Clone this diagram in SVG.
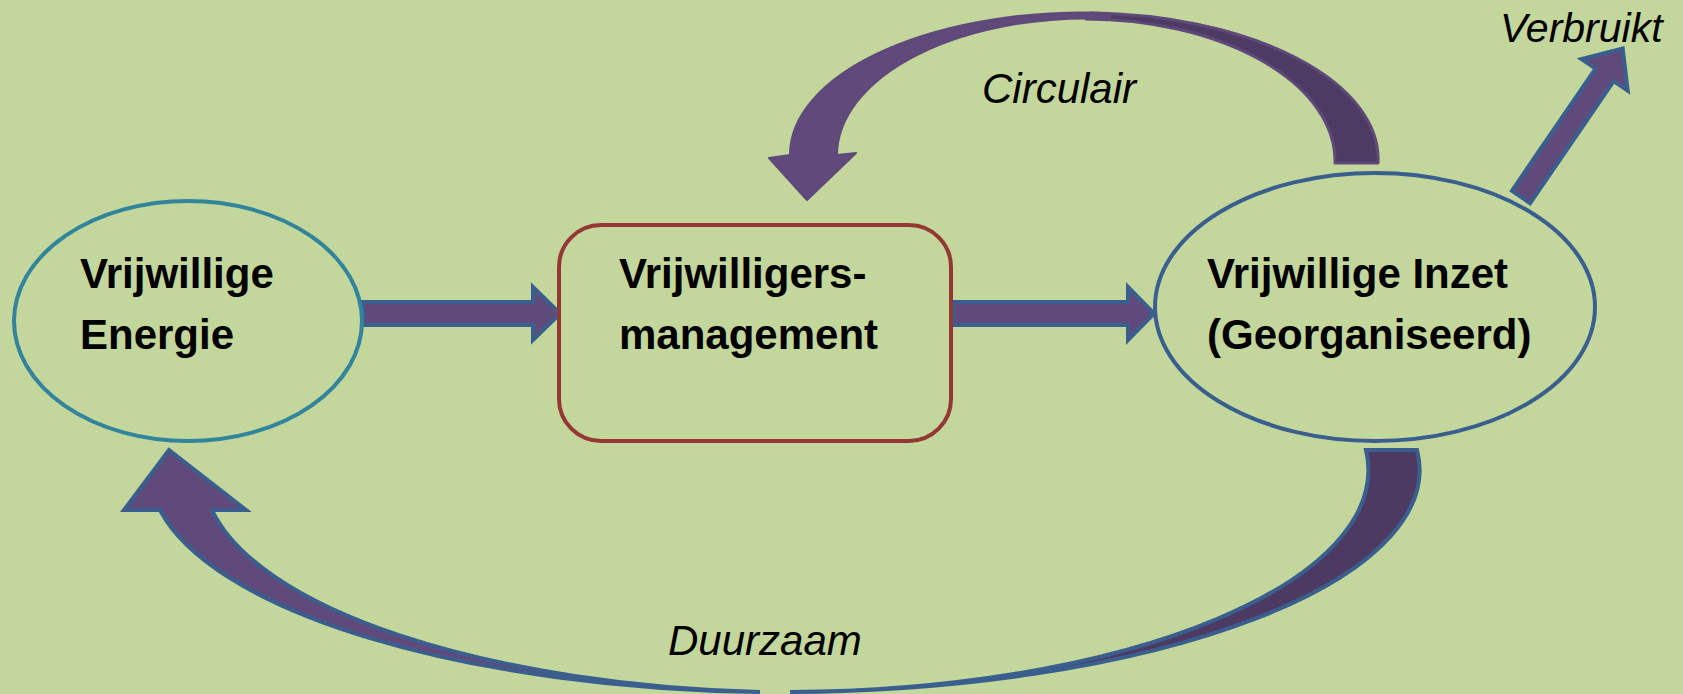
<svg xmlns="http://www.w3.org/2000/svg" width="1683" height="694" viewBox="0 0 1683 694">
<style>
.bg{fill:#C3D69B}
.node-text{font-family:"Liberation Sans",Arial,sans-serif;font-weight:bold;font-size:42px;fill:#000}
.label{font-family:"Liberation Sans",Arial,sans-serif;font-style:italic;font-size:42px;fill:#000}
.arrow{fill:#604A7B;stroke:#3A5F8E;stroke-width:4;stroke-linejoin:miter}
.arrow-dark{fill:#4C3A63;stroke:#3A5F8E;stroke-width:4}
.curl-light{fill:#604A7B;stroke:#5F497A;stroke-width:2;stroke-linejoin:round}
.curl-dark{fill:#4E3B63;stroke:#5F497A;stroke-width:3;stroke-linejoin:round}
</style>
<rect class="bg" x="0" y="0" width="1683" height="694"/>

<g id="connectors">
  <!-- Circulair: from Inzet back to management -->
  <g id="arrow-circulair">
    <path class="curl-dark" d="M 1090 13 A 294 146 0 0 1 1378 163 L 1335 163 A 250 142 0 0 0 1086 19 Z"/>
    <path class="curl-light" d="M 1110 13 A 294 142 0 0 0 790 155 L 769 158 L 807 200 L 856 153 L 837 155 A 250 137 0 0 1 1110 19 Z"/>
  </g>
  <!-- Duurzaam: from Inzet back to Energie -->
  <g id="arrow-duurzaam">
    <path class="arrow-dark" d="M 1366 450 L 1417 450 A 638 222 0 0 1 790 692 A 585 222 0 0 0 1366 450 Z"/>
    <path class="arrow" d="M 160 510 A 638 222 0 0 0 760 692 A 600 220 0 0 1 212 510 L 246 510 L 169 450 L 124 510 Z"/>
  </g>
  <!-- Energie -> management -->
  <path id="arrow-1" class="arrow" d="M 363 302 L 533 302 L 533 287 L 560 313.5 L 533 340 L 533 325 L 363 325 Z"/>
  <!-- management -> Inzet -->
  <path id="arrow-2" class="arrow" d="M 954 302 L 1128 302 L 1128 287 L 1154 313.5 L 1128 340 L 1128 325 L 954 325 Z"/>
  <!-- Inzet -> Verbruikt -->
  <path id="arrow-verbruikt" class="arrow" transform="translate(1521 197) rotate(-55.6)" d="M 0 -11 L 148 -11 L 148 -28 L 180 0 L 148 28 L 148 11 L 0 11 Z"/>
</g>

<g id="node-energie">
  <ellipse cx="188" cy="321" rx="174" ry="120" fill="#C3D69B" stroke="#31849B" stroke-width="4"/>
  <text class="node-text" x="80" y="288">Vrijwillige</text>
  <text class="node-text" x="80" y="349">Energie</text>
</g>

<g id="node-management">
  <rect x="559" y="225" width="392" height="216" rx="42" ry="42" fill="#C3D69B" stroke="#953735" stroke-width="4"/>
  <text class="node-text" x="619" y="288">Vrijwilligers-</text>
  <text class="node-text" x="619" y="349">management</text>
</g>

<g id="node-inzet">
  <ellipse cx="1375" cy="307" rx="220" ry="134" fill="#C3D69B" stroke="#3A5F8E" stroke-width="4"/>
  <text class="node-text" x="1207" y="288">Vrijwillige Inzet</text>
  <text class="node-text" x="1207" y="349">(Georganiseerd)</text>
</g>

<g id="labels">
  <text class="label" x="982" y="103">Circulair</text>
  <text class="label" x="668" y="655">Duurzaam</text>
  <text class="label" x="1500" y="42" style="font-size:41px">Verbruikt</text>
</g>
</svg>
